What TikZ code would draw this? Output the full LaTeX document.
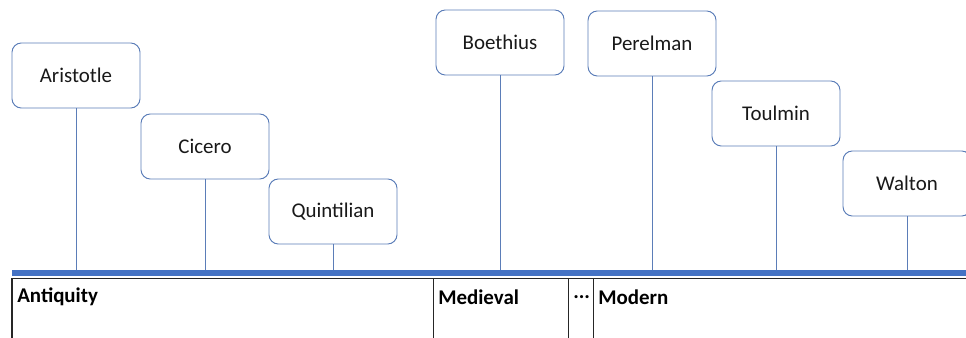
\documentclass[tikz,border=0pt]{standalone}
\usepackage{fontspec}
\setmainfont{Carlito}
\definecolor{barblue}{HTML}{4472C4}
\definecolor{boxline}{HTML}{5B7DB8}
\definecolor{divline}{HTML}{262626}
\begin{document}
\begin{tikzpicture}[x=0.75pt,y=-0.75pt,
  person/.style={draw=boxline, line width=0.7pt, rounded corners=7pt, fill=white,
    minimum width=128*0.75pt, minimum height=65*0.75pt, inner sep=0pt,
    font=\fontsize{15.7}{18}\selectfont, text=black!90},
  stem/.style={draw=boxline, line width=0.6pt},
  period/.style={anchor=west, font=\fontsize{15.7}{18}\selectfont\bfseries, inner sep=0pt},
  divider/.style={draw=divline, line width=1.1pt}]
\useasboundingbox (0,0) rectangle (966,338);
% timeline
\coordinate (barL) at (12,273);
\coordinate (barR) at (966,273);
\coordinate (baseL) at (12,278.5);
\coordinate (baseR) at (966,278.5);
% stem feet
\coordinate (fA) at (76,270);
\coordinate (fC) at (205,270);
\coordinate (fQ) at (333,270);
\coordinate (fB) at (500,270);
\coordinate (fP) at (652,270);
\coordinate (fT) at (776,270);
\coordinate (fW) at (907,270);
% boxes
\node[person] (A) at (76,75.5) {Aristotle};
\node[person] (C) at (205,146.5) {Cicero};
\node[person] (Q) at (333,211.5) {Quintilian};
\node[person] (B) at (500,42.5) {Boethius};
\node[person] (P) at (652,43.5) {Perelman};
\node[person] (T) at (776,113.5) {Toulmin};
\node[person] (W) at (907,183.5) {Walton};
\draw[stem] (A.south) -- (fA);
\draw[stem] (C.south) -- (fC);
\draw[stem] (Q.south) -- (fQ);
\draw[stem] (B.south) -- (fB);
\draw[stem] (P.south) -- (fP);
\draw[stem] (T.south) -- (fT);
\draw[stem] (W.south) -- (fW);
% bar
\draw[draw=barblue, line width=4.5pt] (barL) -- (barR);
\draw[draw=divline, line width=1.1pt] (baseL) -- (baseR);
% dividers
\coordinate (d1t) at (12,278); \coordinate (d1b) at (12,338);
\coordinate (d2t) at (433.5,278); \coordinate (d2b) at (433.5,338);
\coordinate (d3t) at (568.5,278); \coordinate (d3b) at (568.5,338);
\coordinate (d4t) at (593.5,278); \coordinate (d4b) at (593.5,338);
\draw[divider] (d1t) -- (d1b);
\draw[divider] (d2t) -- (d2b);
\draw[divider] (d3t) -- (d3b);
\draw[divider] (d4t) -- (d4b);
% period labels
\node[period] (ant) at (17,297) {Antiquity};
\node[period] (med) at (438,297) {Medieval};
\node[period] (dots) at (573,297) {...};
\node[period] (mod) at (598,297) {Modern};
\end{tikzpicture}
\end{document}
